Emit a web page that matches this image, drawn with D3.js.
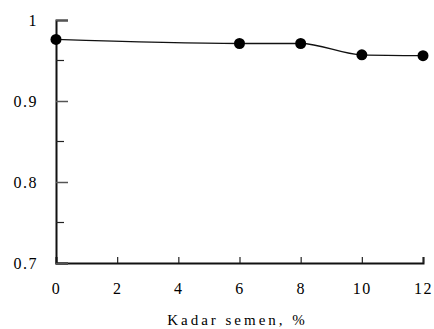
<!DOCTYPE html>
<html>
<head>
<meta charset="utf-8">
<script src="https://cdn.jsdelivr.net/npm/d3@7"></script>
<style>
  body { margin: 0; background: #fff; }
</style>
</head>
<body>
<figure id="chart" style="margin:0"></figure>
<script>
const kadarSemen = [0, 6, 8, 10, 12];
const nilai = [0.976, 0.971, 0.971, 0.957, 0.956];
const xTicks = [0, 2, 4, 6, 8, 10, 12];
const yTicks = [0.7, 0.8, 0.9, 1];
const yMinorTicks = [0.75, 0.85, 0.95];
const xTitle = "Kadar semen, %";

const serif = "'Liberation Serif', 'Times New Roman', serif";
const width = 434, height = 329;
const margin = {left: 56, right: 11, top: 20, bottom: 66};

const svg = d3.select("figure#chart")
  .append("svg")
  .attr("width", width)
  .attr("height", height);

const x = d3.scaleLinear().domain([0, 12]).range([margin.left, width - margin.right]);
const y = d3.scaleLinear().domain([0.7, 1]).range([height - margin.bottom, margin.top]);

// x axis, ticks pointing up
const xAxis = svg.append("g")
  .attr("transform", "translate(0," + y(0.7) + ")")
  .call(d3.axisBottom(x).tickValues(xTicks).tickSize(-6).tickPadding(20).tickFormat(d3.format("d")));
xAxis.select(".domain").attr("stroke", "#111").attr("stroke-width", 2);
xAxis.selectAll(".tick line").attr("stroke", "#222").attr("stroke-width", 1.2);
xAxis.selectAll(".tick text")
  .style("font-family", serif).style("font-size", "16px").style("letter-spacing", "1.5px");

// y axis, ticks pointing right
const yAxis = svg.append("g")
  .attr("transform", "translate(" + x(0) + ",0)")
  .call(d3.axisLeft(y).tickValues(yTicks).tickSize(-12).tickPadding(18).tickFormat(d => d === 1 ? "1" : d3.format(".1f")(d)));
yAxis.select(".domain").attr("stroke", "#111").attr("stroke-width", 2);
yAxis.selectAll(".tick line").attr("stroke", "#555").attr("stroke-width", 1.5);
yAxis.selectAll(".tick text")
  .style("font-family", serif).style("font-size", "16px").style("letter-spacing", "1.5px");

svg.append("g").selectAll("line")
  .data(yMinorTicks)
  .enter()
  .append("line")
  .attr("x1", x(0)).attr("x2", x(0) + 8)
  .attr("y1", d => y(d)).attr("y2", d => y(d))
  .attr("stroke", "#222").attr("stroke-width", 1.2);

// smoothed line
const pts = kadarSemen.map((k, i) => [k, nilai[i]]);
svg.append("path")
  .datum(pts)
  .attr("fill", "none")
  .attr("stroke", "#111")
  .attr("stroke-width", 1.3)
  .attr("d", d3.line().x(d => x(d[0])).y(d => y(d[1])).curve(d3.curveMonotoneX));

svg.selectAll("circle")
  .data(pts)
  .enter()
  .append("circle")
  .attr("cx", d => x(d[0]))
  .attr("cy", d => y(d[1]))
  .attr("r", 5.5)
  .attr("fill", "#000");

svg.append("text")
  .attr("x", x(6) - 2)
  .attr("y", 325)
  .attr("text-anchor", "middle")
  .style("font-family", serif)
  .style("font-size", "15px")
  .style("letter-spacing", "3px")
  .text(xTitle);
</script>
</body>
</html>
